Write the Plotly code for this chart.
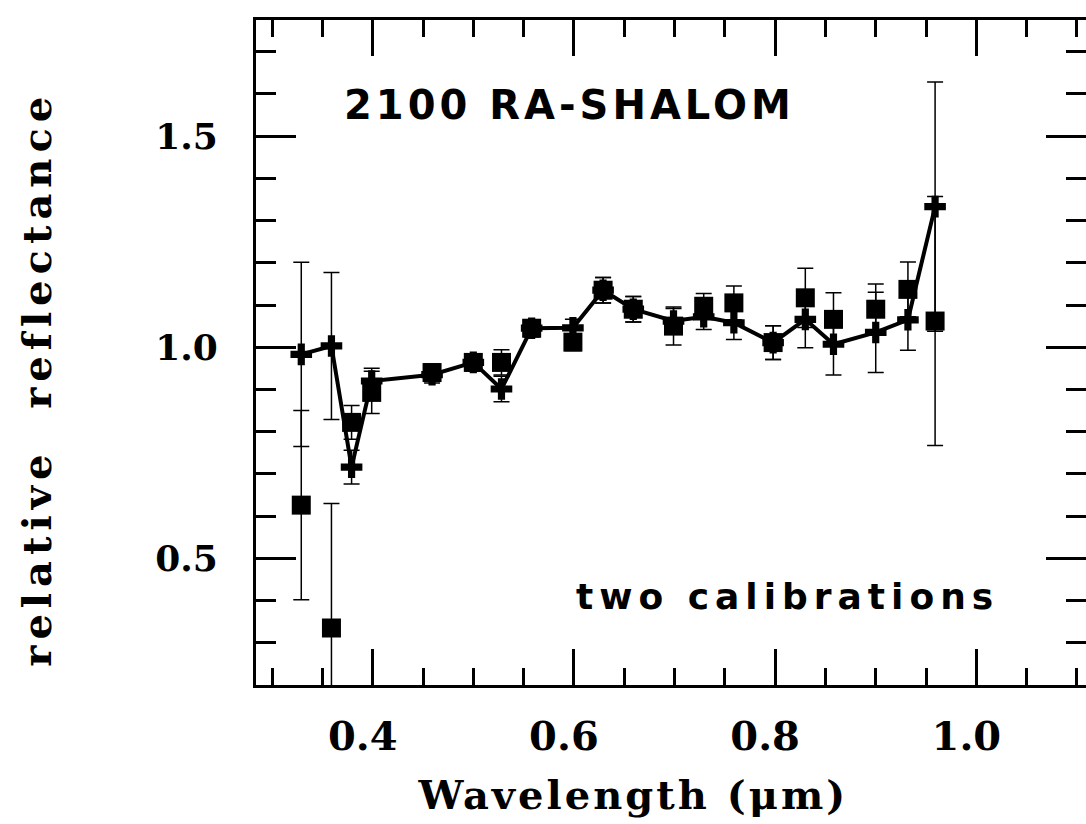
import plotly.graph_objects as go

# ---------------- data ----------------
wavelength = [0.329, 0.359, 0.379, 0.399, 0.459, 0.500, 0.528, 0.558, 0.599, 0.629,
              0.659, 0.699, 0.729, 0.759, 0.798, 0.830, 0.858, 0.900, 0.932, 0.959]
# calibration 1 (plus symbols, connected)
cal_a = [0.983, 1.003, 0.716, 0.920, 0.935, 0.964, 0.901, 1.045, 1.046, 1.135,
         1.090, 1.062, 1.072, 1.058, 1.011, 1.066, 1.007, 1.035, 1.065, 1.333]
cal_a_err = [0.218, 0.174, 0.040, 0.030, 0.020, 0.020, 0.030, 0.020, 0.020, 0.030,
             0.030, 0.030, 0.030, 0.040, 0.040, 0.067, 0.073, 0.095, 0.072, 0.295]
# calibration 2 (filled squares)
cal_b = [0.626, 0.335, 0.822, 0.893, 0.940, 0.964, 0.964, 1.045, 1.012, 1.135,
         1.090, 1.050, 1.097, 1.105, 1.011, 1.117, 1.066, 1.090, 1.137, 1.062]
cal_b_err = [0.224, 0.295, 0.040, 0.050, 0.020, 0.020, 0.030, 0.020, 0.020, 0.030,
             0.030, 0.045, 0.030, 0.040, 0.040, 0.070, 0.063, 0.060, 0.065, 0.295]

x_tickvals = [0.4, 0.6, 0.8, 1.0]
x_ticktext = ["0.4", "0.6", "0.8", "1.0"]
y_tickvals = [0.5, 1.0, 1.5]
y_ticktext = ["0.5", "1.0", "1.5"]

title_text = "2100 RA-SHALOM"
note_text = "two calibrations"
x_title = "Wavelength (μm)"
y_title = "relative  reflectance"

# ---------------- figure ----------------
fig = go.Figure()

fig.add_trace(go.Scatter(
    x=wavelength, y=cal_b, mode="markers",
    marker=dict(symbol="square", size=19, color="black"),
    error_y=dict(type="data", array=cal_b_err, visible=True,
                 color="black", thickness=1.5, width=8),
    showlegend=False, hoverinfo="x+y"))

fig.add_trace(go.Scatter(
    x=wavelength, y=cal_a, mode="lines+markers",
    line=dict(color="black", width=4),
    marker=dict(symbol="cross", size=18, color="black"),
    error_y=dict(type="data", array=cal_a_err, visible=True,
                 color="black", thickness=1.5, width=8),
    showlegend=False, hoverinfo="x+y"))

# empty trace so the right-hand tick axis is drawn
fig.add_trace(go.Scatter(x=[], y=[], yaxis="y2", showlegend=False, hoverinfo="skip"))

fig.update_layout(
    width=1086, height=824,
    margin=dict(l=256, r=0, t=20, b=139),
    paper_bgcolor="white", plot_bgcolor="white",
    showlegend=False,
    xaxis=dict(
        range=[0.284, 1.109],
        tickmode="array", tickvals=x_tickvals, ticktext=x_ticktext,
        ticks="inside", ticklen=36, tickwidth=2.5, tickcolor="black",
        showline=True, linewidth=3, linecolor="black", mirror="ticks",
        showgrid=False, zeroline=False,
        tickfont=dict(family="DejaVu Serif", size=40, color="black", weight="bold"),
        ticklabelstandoff=14, ticklabelshift=-10,
        minor=dict(tickmode="linear", tick0=0.3, dtick=0.05, ticks="inside",
                   ticklen=17, tickwidth=2.5, tickcolor="black", showgrid=False),
    ),
    yaxis=dict(
        range=[0.2, 1.775],
        tickmode="array", tickvals=y_tickvals, ticktext=y_ticktext,
        ticks="inside", ticklen=40, tickwidth=2.5, tickcolor="black",
        showline=True, linewidth=3, linecolor="black", mirror=False,
        showgrid=False, zeroline=False,
        tickfont=dict(family="DejaVu Serif", size=36, color="black", weight="bold"),
        ticklabelstandoff=28,
        minor=dict(tickmode="linear", tick0=0.2, dtick=0.1, ticks="inside",
                   ticklen=20, tickwidth=2.5, tickcolor="black", showgrid=False),
    ),
    yaxis2=dict(
        overlaying="y", side="right", matches="y",
        tickmode="array", tickvals=y_tickvals,
        ticks="inside", ticklen=40, tickwidth=2.5, tickcolor="black",
        showticklabels=False, showline=False, showgrid=False, zeroline=False,
        minor=dict(tickmode="linear", tick0=0.2, dtick=0.1, ticks="inside",
                   ticklen=20, tickwidth=2.5, tickcolor="black", showgrid=False),
    ),
    annotations=[
        dict(text=title_text, x=0.5955, y=1.573, xref="x", yref="y",
             showarrow=False, xanchor="center", yanchor="middle",
             font=dict(family="DejaVu Sans", size=40, color="black", weight="bold")),
        dict(text=note_text, x=0.812, y=0.41, xref="x", yref="y",
             showarrow=False, xanchor="center", yanchor="middle",
             font=dict(family="DejaVu Sans", size=36, color="black", weight="bold")),
        dict(text=x_title, x=-(256 - 633) / 830, y=(685 - 795) / 665,
             xref="paper", yref="paper",
             showarrow=False, xanchor="center", yanchor="middle",
             font=dict(family="DejaVu Serif", size=40, color="black", weight="bold")),
        dict(text=y_title, x=(36 - 256) / 830, y=(685 - 378) / 665,
             xref="paper", yref="paper", textangle=-90,
             showarrow=False, xanchor="center", yanchor="middle",
             font=dict(family="DejaVu Serif", size=40, color="black", weight="bold")),
    ],
)

js = """
var gd = document.getElementById('{plot_id}');
var spacing = ['4px', '6px', '3px', '6px'];
var anns = gd.querySelectorAll('.annotation-text');
anns.forEach(function(t, i){ if (i < spacing.length) t.style.letterSpacing = spacing[i]; });
"""

fig.write_html("out.html", post_script=js)
